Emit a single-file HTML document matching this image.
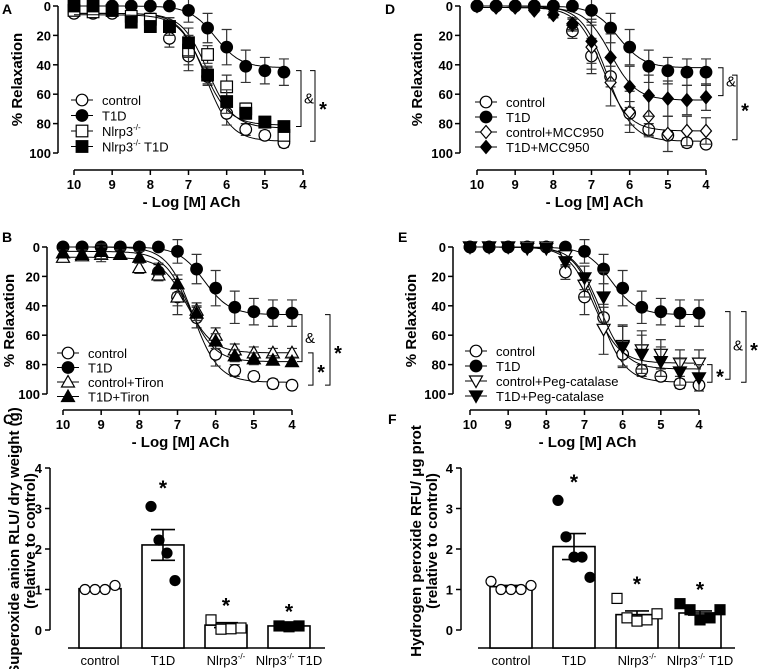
<!DOCTYPE html>
<html><head><meta charset="utf-8">
<style>
html,body{margin:0;padding:0;background:#fff;}
svg{display:block;font-family:"Liberation Sans",Arial,sans-serif;}
.tk{font-size:13px;font-weight:bold;}
.tt{font-size:15px;font-weight:bold;}
.lg{font-size:13px;}
.pl{font-size:14px;font-weight:bold;}
</style></head>
<body>
<svg id="fig" width="758" height="669" viewBox="0 0 758 669"></svg>
<script>
// ---------- data ----------
const logConc = [10,9.5,9,8.5,8,7.5,7,6.5,6,5.5,5,4.5,4];
const xTicks = [10,9,8,7,6,5,4];
const yTicks = [0,20,40,60,80,100];

// Panel A (10 .. 4.5)
const aControl = [5,5,5,7,9,22,34,48,73,84,88,93];
const aT1D     = [0,0,0,0,0,0,3,15,28,41,44,45];
const aNlrp3   = [3,4,3,7,9,14,30,33,55,70,79,88];
const aNlrp3T1D= [0,0,3,11,14,14,25,47,65,73,79,82];
const aErr     = [0,0,0,3,4,6,10,6,8,4,3,3];
const aT1DErr  = [0,0,0,0,0,0,8,10,12,11,9,9];

// Panel B
const bControl = [0,0,0,0,0,17,34,48,73,84,88,93,94];
const bT1D     = [0,0,0,0,0,0,3,15,28,41,44,45,45];
const bTiron   = [7,6,5,5,14,19,34,43,60,70,72,72,72];
const bT1DTiron= [4,5,3,5,7,15,25,45,64,74,76,77,78];
const ctrlErr  = [0,0,0,0,0,5,12,7,8,4,3,3,2];
const t1dErr   = [0,0,0,0,0,0,8,10,12,11,9,9,9];
const bTrErr   = [2,3,5,3,4,4,6,5,5,4,4,3,3];

// Panel D
const dMCC     = [0,1,1,3,6,13,28,52,72,75,87,85,85];
const dT1DMCC  = [0,0,0,2,6,12,24,35,55,61,63,64,62];
const dErr     = [0,0,0,1,2,4,15,16,14,14,12,10,9];

// Panel E
const ePeg     = [0,0,0,0,0,6,26,56,67,70,73,79,79];
const eT1DPeg  = [0,0,0,1,1,10,21,34,68,73,78,85,89];
const eErr     = [0,0,0,0,1,3,8,17,14,13,10,9,9];

// sigmoid fit parameters per series: [top, bottom, pEC50]
const fitA = {ctrl:[5,92,6.55], t1d:[0,42,6.3], ko:[5,83,6.5], kot1d:[6,81,6.6]};
const fitB = {ctrl:[0,92,6.6], t1d:[0,46,6.3], tir:[7,72,6.75], t1dtir:[3,78,6.7]};
const fitD = {ctrl:[0,92,6.6], t1d:[0,42,6.3], mcc:[1,85,6.7], t1dmcc:[1,64,6.5]};
const fitE = {ctrl:[0,92,6.6], t1d:[0,46,6.3], peg:[0,79,6.75], t1dpeg:[0,83,6.6]};

// Bar panels
const barCats = ["control","T1D","Nlrp3","Nlrp3 T1D"];
const cMeans = [1.02,2.1,0.12,0.1];
const cSem   = [0,0.38,0.06,0.02];
const cPts   = [[1.0,1.0,1.0,1.1],[3.05,2.22,1.9,1.22],[0.25,0.02,0.03,0.05],[0.1,0.08,0.1]];
const cStar  = [false,true,true,true];
const fMeans = [1.07,2.06,0.38,0.42];
const fSem   = [0.03,0.32,0.09,0.05];
const fPts   = [[1.2,1.0,1.0,1.0,1.1],[3.2,2.3,1.8,1.8,1.3],[0.78,0.3,0.22,0.25,0.4],[0.65,0.5,0.25,0.3,0.5]];
const fStar  = [false,true,true,true];
const barTicks = [0,1,2,3,4];

// ---------- drawing ----------
const NS="http://www.w3.org/2000/svg";
const svg=document.getElementById('fig');
function mk(tag,attrs,parent){const e=document.createElementNS(NS,tag);for(const k in attrs)e.setAttribute(k,attrs[k]);(parent||svg).appendChild(e);return e;}
function txt(s,x,y,cls,anchor,parent){const t=mk('text',{x:x,y:y,class:cls,'text-anchor':anchor||'middle'},parent);t.textContent=s;return t;}

function marker(g,type,cx,cy,rr){
  const r=rr||5.8;let e;
  const fill=(type.indexOf('f')===0)?'#000':'#fff';
  const t=type.slice(1);
  if(t==='circ') e=mk('circle',{cx:cx,cy:cy,r:r,fill:fill,stroke:'#000','stroke-width':1.2},g);
  else if(t==='sq') e=mk('rect',{x:cx-r,y:cy-r,width:2*r,height:2*r,fill:fill,stroke:'#000','stroke-width':1.2},g);
  else if(t==='tri') e=mk('polygon',{points:`${cx},${cy-6.5} ${cx-6.5},${cy+5} ${cx+6.5},${cy+5}`,fill:fill,stroke:'#000','stroke-width':1.2},g);
  else if(t==='dtri') e=mk('polygon',{points:`${cx},${cy+6.5} ${cx-6.5},${cy-5} ${cx+6.5},${cy-5}`,fill:fill,stroke:'#000','stroke-width':1.2},g);
  else if(t==='dia') e=mk('polygon',{points:`${cx},${cy-6.5} ${cx+5.5},${cy} ${cx},${cy+6.5} ${cx-5.5},${cy}`,fill:fill,stroke:'#000','stroke-width':1.2},g);
  
  
  return e;
}

function curvePanel(p){
  const g=mk('g',{});
  
  
  const sx=v=>p.x10+(10-v)*(p.x4-p.x10)/6;
  const sy=v=>p.y0+v*(p.y100-p.y0)/100;
  txt(p.letter,p.lx,p.ly,'pl','start',g);
  const ya=mk('line',{x1:p.yx,y1:sy(0),x2:p.yx,y2:sy(100),stroke:'#000','stroke-width':1.5},g);
  
  yTicks.forEach(v=>{mk('line',{x1:p.yx-5,y1:sy(v),x2:p.yx,y2:sy(v),stroke:'#000','stroke-width':1.5},g);
    const t=txt(v,p.yx-7,sy(v)+5,'tk','end',g);});
  const yt=txt('% Relaxation',0,0,'tt','middle',g);
  yt.setAttribute('transform',`translate(${p.ytx},${(sy(0)+sy(100))/2}) rotate(-90)`);
  
  const xa=mk('line',{x1:sx(10),y1:p.ax,x2:sx(4),y2:p.ax,stroke:'#000','stroke-width':1.5},g);
  
  xTicks.forEach(v=>{mk('line',{x1:sx(v),y1:p.ax,x2:sx(v),y2:p.ax+5,stroke:'#000','stroke-width':1.5},g);
    const t=txt(v,sx(v),p.ax+19,'tk','middle',g);});
  const xt=txt('- Log [M] ACh',(sx(10)+sx(4))/2+3,p.ax+37,'tt','middle',g);
  
  p.series.forEach(s=>{
    const n=s.vals.length;const xs=logConc.slice(0,n);
    const [top,bot,ec]=s.fit;
    let d='';const xEnd=xs[n-1]-0.05;
    for(let v=10;v>=xEnd-1e-9;v-=0.05){const y=top+(bot-top)/(1+Math.pow(10,(v-ec)*1.3));d+=(d?'L':'M')+sx(v).toFixed(1)+','+sy(y).toFixed(1);}
    const c=mk('path',{d:d,fill:'none',stroke:'#000','stroke-width':1},g);
    
    xs.forEach((x,i)=>{const e=s.err?s.err[i]:0;
      if(e>0){const X=sx(x),Y1=sy(s.vals[i]-e),Y2=sy(s.vals[i]+e);
        mk('path',{d:`M${X},${Y1}V${Y2}M${X-5},${Y1}H${X+5}M${X-5},${Y2}H${X+5}`,stroke:'#333','stroke-width':1.2,fill:'none'},g);}
      marker(g,s.m,sx(x),sy(s.vals[i]));});
  });
  p.series.forEach((s,i)=>{const y=p.legY+i*p.legDy;
    const lg=mk('g',{},g);
    mk('line',{x1:p.legX-11,y1:y,x2:p.legX+11,y2:y,stroke:'#000','stroke-width':1},lg);
    marker(lg,s.m,p.legX,y);
    const t=txt('',p.legX+20,y+5,'lg','start',lg);
    if(s.sup){t.appendChild(document.createTextNode(s.label));const ts=document.createElementNS(NS,'tspan');ts.setAttribute('style','font-size:8px');ts.setAttribute('dy','-6');ts.textContent='-/-';t.appendChild(ts);
      if(s.after){const t2=document.createElementNS(NS,'tspan');t2.setAttribute('dy','6');t2.textContent=s.after;t.appendChild(t2);}}
    else t.textContent=s.label;});
  p.brackets.forEach(b=>{const bg=mk('g',{},g);
    const y1=sy(b[1]),y2=sy(b[2]);
    mk('path',{d:`M${b[0]-5},${y1}H${b[0]}V${y2}H${b[0]-5}`,stroke:'#000','stroke-width':1,fill:'none'},bg);
    const star=b[3]==='*';
    const t=txt(b[3],b[0]+(star?8:8),(y1+y2)/2+(star?10:5),star?'tt':'lg','middle',bg);
    t.setAttribute('style',star?'font-size:20px;font-weight:bold':'font-size:15px');});
}

curvePanel({name:'panel-a',letter:'A',lx:2,ly:14,yx:58,x10:74,x4:303,y0:6,y100:153,ax:170,ytx:22,legX:82,legY:100,legDy:15.5,
  series:[{vals:aControl,err:aErr,fit:fitA.ctrl,m:'ocirc',label:'control'},
          {vals:aT1D,err:aT1DErr,fit:fitA.t1d,m:'fcirc',label:'T1D'},
          {vals:aNlrp3,err:aErr,fit:fitA.ko,m:'osq',label:'Nlrp3',sup:true},
          {vals:aNlrp3T1D,err:aErr,fit:fitA.kot1d,m:'fsq',label:'Nlrp3',sup:true,after:' T1D'}],
  brackets:[[301,44,82,'&'],[315,44,92,'*']]});
curvePanel({name:'panel-b',letter:'B',lx:2,ly:242,yx:47,x10:63,x4:292,y0:247,y100:394,ax:410,ytx:14,legX:68,legY:353,legDy:14.5,
  series:[{vals:bControl,err:ctrlErr,fit:fitB.ctrl,m:'ocirc',label:'control'},
          {vals:bT1D,err:t1dErr,fit:fitB.t1d,m:'fcirc',label:'T1D'},
          {vals:bTiron,err:bTrErr,fit:fitB.tir,m:'otri',label:'control+Tiron'},
          {vals:bT1DTiron,err:bTrErr,fit:fitB.t1dtir,m:'ftri',label:'T1D+Tiron'}],
  brackets:[[302,46,78,'&'],[313,72,94,'*'],[330,46,94,'*']]});
curvePanel({name:'panel-d',letter:'D',lx:385,ly:14,yx:460,x10:477,x4:706,y0:6,y100:153,ax:170,ytx:422,legX:486,legY:102,legDy:15,
  series:[{vals:bControl,err:ctrlErr,fit:fitD.ctrl,m:'ocirc',label:'control'},
          {vals:bT1D,err:t1dErr,fit:fitD.t1d,m:'fcirc',label:'T1D'},
          {vals:dMCC,err:dErr,fit:fitD.mcc,m:'odia',label:'control+MCC950'},
          {vals:dT1DMCC,err:dErr,fit:fitD.t1dmcc,m:'fdia',label:'T1D+MCC950'}],
  brackets:[[723,42,61,'&'],[737,47,91,'*']]});
curvePanel({name:'panel-e',letter:'E',lx:398,ly:242,yx:453,x10:470,x4:699,y0:247,y100:394,ax:410,ytx:416,legX:476,legY:351,legDy:15,
  series:[{vals:bControl,err:ctrlErr,fit:fitE.ctrl,m:'ocirc',label:'control'},
          {vals:bT1D,err:t1dErr,fit:fitE.t1d,m:'fcirc',label:'T1D'},
          {vals:ePeg,err:eErr,fit:fitE.peg,m:'odtri',label:'control+Peg-catalase'},
          {vals:eT1DPeg,err:eErr,fit:fitE.t1dpeg,m:'fdtri',label:'T1D+Peg-catalase'}],
  brackets:[[712,80,92,'*'],[730,44,90,'&'],[746,44,92,'*']]});

function barPanel(p){
  const g=mk('g',{});
  
  
  const sy=v=>p.y0+v*(p.y4-p.y0)/4;
  txt(p.letter,p.lx,p.ly,'pl','start',g);
  mk('line',{x1:p.yx,y1:sy(0),x2:p.yx,y2:sy(4),stroke:'#000','stroke-width':1.5},g);
  barTicks.forEach(v=>{mk('line',{x1:p.yx-5,y1:sy(v),x2:p.yx,y2:sy(v),stroke:'#000','stroke-width':1.5},g);
    const t=txt(v,p.yx-8,sy(v)+5,'tk','end',g);});
  const mid=(sy(0)+sy(4))/2-8;
  p.ytitle.forEach((s,i)=>{const t=txt(s,0,0,'tt','middle',g);t.setAttribute('transform',`translate(${p.ytx+i*16},${mid}) rotate(-90)`);
    });
  mk('line',{x1:p.xl1,y1:648,x2:p.xl2,y2:648,stroke:'#000','stroke-width':1.5},g);
  const bw=42;
  p.means.forEach((m,i)=>{const cx=p.cx0+i*p.dcx;
    const b=mk('rect',{x:cx-bw/2,y:sy(m),width:bw,height:648-sy(m),fill:'#fff',stroke:'#000','stroke-width':1.6},g);
    
    if(p.sem[i]>0){const Y1=sy(m+p.sem[i]),Y2=sy(m-p.sem[i]);
      mk('path',{d:`M${cx},${Y1}V${Y2}M${cx-12},${Y1}H${cx+12}M${cx-12},${Y2}H${cx+12}`,stroke:'#000','stroke-width':1.6,fill:'none'},g);}
    const pts=p.pts[i];const type=['ocirc','fcirc','osq','fsq'][i];
    pts.forEach((v,j)=>{const off=(j-(pts.length-1)/2)*(i===1?8:10);marker(g,type,cx+off,sy(v),5);});
    if(p.star[i]){const s=txt('*',cx,sy(i===1?Math.max(...pts)+0.55:Math.max(...pts)+0.45)+11,'tt','middle',g);s.setAttribute('style','font-size:21px;font-weight:bold');}
    const lt=txt('',cx,665,'lg','middle',g);
    if(i<2) lt.textContent=barCats[i]; else {lt.appendChild(document.createTextNode('Nlrp3'));const ts=document.createElementNS(NS,'tspan');ts.setAttribute('style','font-size:8px');ts.setAttribute('dy','-6');ts.textContent='-/-';lt.appendChild(ts);
      if(i===3){const t2=document.createElementNS(NS,'tspan');t2.setAttribute('dy','6');t2.textContent=' T1D';lt.appendChild(t2);}}
  });
}
barPanel({name:'panel-c',letter:'C',lx:3,ly:424,yx:50,y0:630,y4:468,ytx:19,xl1:68,xl2:325,cx0:100,dcx:63,
  ytitle:['Superoxide anion RLU/ dry weight (g)','(relative to control)'],means:cMeans,sem:cSem,pts:cPts,star:cStar});
barPanel({name:'panel-f',letter:'F',lx:388,ly:424,yx:461,y0:630,y4:468,ytx:421,xl1:478,xl2:735,cx0:511,dcx:63,
  ytitle:['Hydrogen peroxide RFU/ μg prot','(relative to control)'],means:fMeans,sem:fSem,pts:fPts,star:fStar});
</script>
</body></html>
